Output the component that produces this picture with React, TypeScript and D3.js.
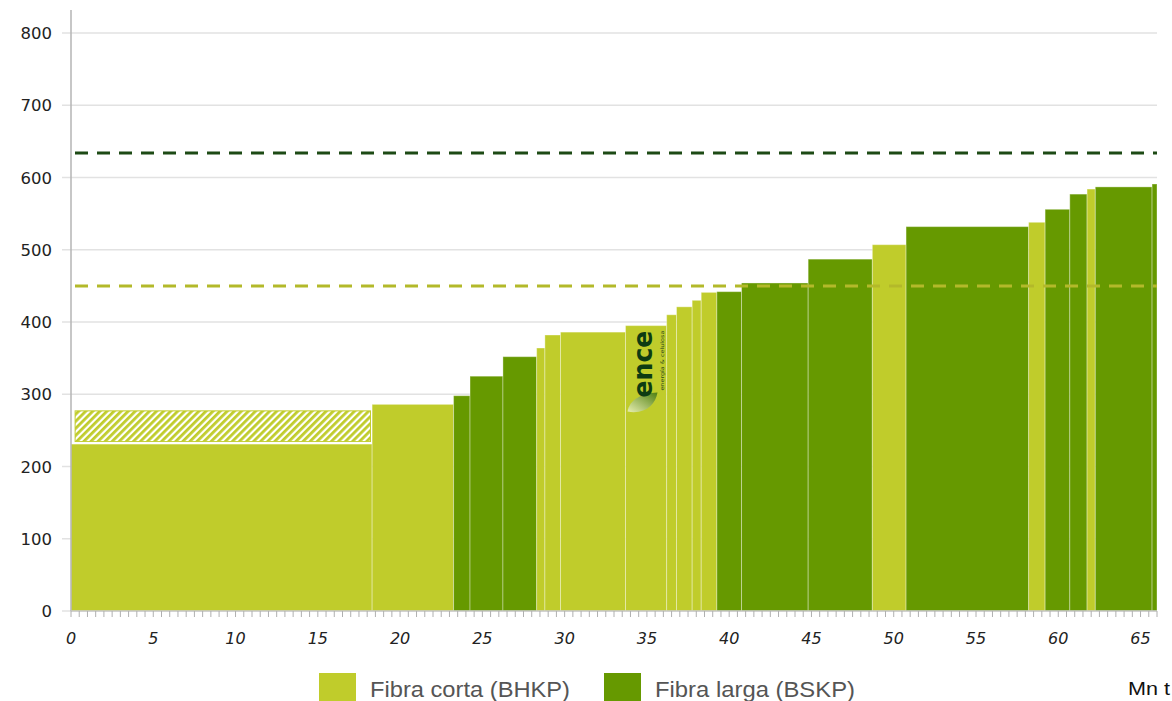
import React from "react";
import * as d3 from "d3";

// Capacity (Mn t) per producer block, cost value and fibre type
const capacities = [18.3, 4.95, 1.0, 2.0, 2.05, 0.5, 0.95, 3.95, 2.5, 0.6, 0.95, 0.55, 0.95, 1.5, 4.05, 3.9, 2.05, 7.45, 1.0, 1.5, 1.05, 0.5, 3.45, 0.3];
const costs = [231, 286, 298, 325, 352, 364, 382, 386, 395, 410, 421, 430, 441, 442, 454, 487, 507, 532, 538, 556, 577, 584, 587, 591];
const fibre = ["c", "c", "l", "l", "l", "c", "c", "c", "c", "c", "c", "c", "c", "l", "l", "l", "c", "l", "c", "l", "l", "c", "l", "l"];
const hatchRange = [231, 277];
const priceLines = [
  { value: 634, type: "l" },
  { value: 450, type: "c" },
];
const yTicks = [0, 100, 200, 300, 400, 500, 600, 700, 800];
const xTicks = [0, 5, 10, 15, 20, 25, 30, 35, 40, 45, 50, 55, 60, 65];
const legendLabels = ["Fibra corta (BHKP)", "Fibra larga (BSKP)"];
const unitLabel = "Mn t";

const LIGHT = "#c0cc2b";
const DARK = "#669900";

export default function App() {
  const x = d3.scaleLinear().domain([0, 66]).range([71, 1157]);
  const y = d3.scaleLinear().domain([0, 800]).range([611, 33]);
  const starts = d3.cumsum([0, ...capacities]);
  const bars = capacities.map((c, i) => ({ x0: starts[i], x1: starts[i] + c, v: costs[i], t: fibre[i] }));
  const minor = d3.range(0, 66.01, 0.5);
  const logo = bars[8];

  return (
    <svg width={1172} height={701} style={{ position: "absolute", left: 0, top: 0 }} fontFamily="DejaVu Sans">
      <defs>
        <pattern id="hatch" patternUnits="userSpaceOnUse" width={5} height={5} patternTransform="rotate(45)">
          <rect width={5} height={5} fill="#ffffff" />
          <rect width={2.8} height={5} fill={LIGHT} />
        </pattern>
        <linearGradient id="leaf" x1="0" y1="1" x2="1" y2="0">
          <stop offset="0" stopColor="#e8efb0" />
          <stop offset="1" stopColor="#4f7f10" />
        </linearGradient>
      </defs>
      {/* gridlines */}
      {yTicks.map((t) => (
        <g key={t}>
          <line x1={62} x2={1157} y1={y(t)} y2={y(t)} stroke="#e2e2e2" strokeWidth={1.5} />
          <text x={52} y={y(t) + 6} textAnchor="end" fontSize={16.5} fill="#222">{t}</text>
        </g>
      ))}
      {/* bars */}
      {bars.map((b, i) => (
        <rect key={i} x={x(b.x0)} y={y(b.v)} width={x(b.x1) - x(b.x0)} height={y(0) - y(b.v)}
          fill={b.t === "c" ? LIGHT : DARK} stroke="rgba(255,255,255,0.35)" strokeWidth={1} />
      ))}
      {/* hatched extension */}
      <rect x={x(0.25)} y={y(hatchRange[1])} width={x(18.2) - x(0.25)} height={y(hatchRange[0]) - y(hatchRange[1]) - 2.5}
        fill="url(#hatch)" stroke={LIGHT} strokeWidth={1} />
      <line x1={x(0.2)} x2={x(18.25)} y1={y(hatchRange[0]) - 1} y2={y(hatchRange[0]) - 1} stroke="#ffffff" strokeWidth={1.5} />
      {/* logo */}
      <g transform={`translate(${x(logo.x0)},${y(logo.v)})`}>
        <path d="M2,86 C4,74 16,68 32,67 C30,79 20,89 2,86 Z" fill="url(#leaf)" />
        <text transform="translate(26,72) rotate(-90)" fontFamily="DejaVu Sans" fontWeight="bold" fontSize={27}
          fill="#0d3b12" textLength={67} lengthAdjust="spacingAndGlyphs">ence</text>
        <text transform="translate(38,65) rotate(-90)" fontSize={5} fill="#2a4a1a" textLength={60}
          lengthAdjust="spacingAndGlyphs">energía &amp; celulosa</text>
      </g>
      {/* price lines */}
      {priceLines.map((p) => (
        <line key={p.value} x1={75} x2={1157} y1={y(p.value)} y2={y(p.value)}
          stroke={p.type === "l" ? "#1d4a15" : "#b3b92a"} strokeWidth={3} strokeDasharray="13 9" />
      ))}
      {/* axes */}
      <line x1={x(0)} x2={x(0)} y1={10} y2={611} stroke="#b5b5b5" strokeWidth={1.5} />
      <line x1={x(0)} x2={1157} y1={611} y2={611} stroke="#c8c8c8" strokeWidth={1.5} />
      {minor.map((m) => (
        <line key={m} x1={x(m)} x2={x(m)} y1={611} y2={617} stroke="#b0b0b0" strokeWidth={1} />
      ))}
      {xTicks.map((t) => (
        <text key={t} x={x(t)} y={644} textAnchor="middle" fontSize={16} fontStyle="italic" fill="#222">{t}</text>
      ))}
      {/* legend */}
      {legendLabels.map((l, i) => (
        <g key={l} transform={`translate(${319 + i * 285},673)`}>
          <rect width={37} height={28} fill={i === 0 ? LIGHT : DARK} />
          <text x={51} y={24} fontFamily="Liberation Sans" fontSize={22} fill="#555" textLength={200} lengthAdjust="spacingAndGlyphs">{l}</text>
        </g>
      ))}
      <text x={1128} y={695} fontFamily="Liberation Sans" fontSize={19} fill="#111" textLength={42} lengthAdjust="spacingAndGlyphs">{unitLabel}</text>
    </svg>
  );
}
